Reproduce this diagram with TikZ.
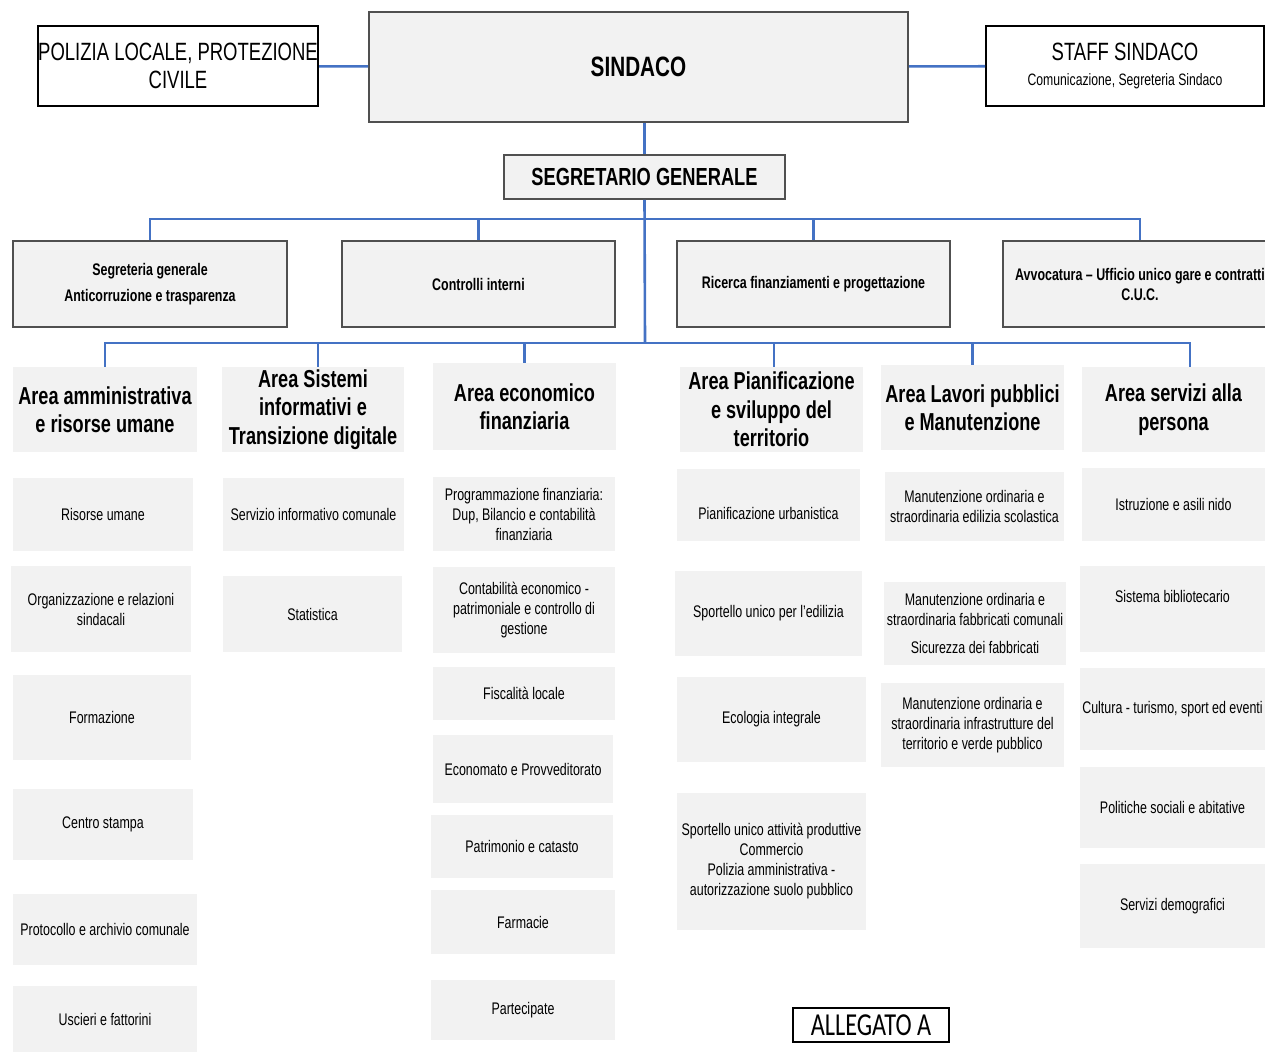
\documentclass[tikz,border=0pt]{standalone}
\usepackage{fontspec}
\setmainfont[FakeStretch=0.74]{Liberation Sans}
\newfontfamily\allegatofont[FakeStretch=0.76]{Carlito}
\usepackage{tikz}
\definecolor{linkblue}{HTML}{4472C4}
\definecolor{boxgray}{HTML}{F2F2F2}
\definecolor{framegray}{HTML}{505050}

\begin{document}
\begin{tikzpicture}[x=1pt,y=-1pt]
\tikzstyle{side} = [draw=black,line width=2pt,fill=white,align=center,inner sep=0pt,font=\fontsize{25}{28}\selectfont]
\tikzstyle{boss} = [draw=framegray,line width=1.8pt,fill=boxgray,align=center,inner sep=0pt,font=\bfseries\fontsize{28}{32}\selectfont]
\tikzstyle{office} = [draw=framegray,line width=1.4pt,fill=boxgray,align=center,inner sep=0pt,font=\bfseries\fontsize{16.8}{20}\selectfont]
\tikzstyle{head} = [fill=boxgray,align=center,inner sep=0pt,font=\bfseries\fontsize{24.5}{28.5}\selectfont]
\tikzstyle{unit} = [fill=boxgray,align=center,inner sep=0pt,font=\fontsize{16.8}{20}\selectfont]
\tikzstyle{link} = [draw=linkblue,line width=2.6pt]

\useasboundingbox (0,0) rectangle (1265,1054);
\clip (0,0) rectangle (1265,1054);

% vertice
\node[boss,minimum width=539,minimum height=110] (sind) at (638.5,67) {SINDACO};
\node[side,minimum width=280,minimum height=80] (pol) at (178,66) {POLIZIA LOCALE, PROTEZIONE\\CIVILE};
\node[side,minimum width=278,minimum height=80] (staff) at (1125,66) {STAFF SINDACO\\[-3pt]\fontsize{16.5}{20}\selectfont Comunicazione, Segreteria Sindaco};
\node[boss,minimum width=281,minimum height=44,font=\bfseries\fontsize{24.7}{28}\selectfont] (seg) at (644.5,177) {SEGRETARIO GENERALE};

% uffici di staff
\node[office,minimum width=274,minimum height=86] (st1) at (150,284) {Segreteria generale\\[6pt]Anticorruzione e trasparenza};
\node[office,minimum width=273,minimum height=86] (st2) at (478.5,284) {Controlli interni};
\node[office,minimum width=273,minimum height=86] (st3) at (813.5,284) {Ricerca finanziamenti e progettazione};
\node[office,minimum width=274,minimum height=86] (st4) at (1140,284) {Avvocatura -- Ufficio unico gare e contratti\\C.U.C.};

% aree
\node[head,minimum width=184,minimum height=85] (a1) at (105,409.5) {Area amministrativa\\e risorse umane};
\node[head,minimum width=182,minimum height=85] (a2) at (313,409.5) {Area Sistemi\\informativi e\\Transizione digitale};
\node[head,minimum width=183,minimum height=87] (a3) at (524.5,406.5) {Area economico\\finanziaria};
\node[head,minimum width=183,minimum height=85] (a4) at (771.5,409.5) {Area Pianificazione\\e sviluppo del\\territorio};
\node[head,minimum width=183,minimum height=85] (a5) at (972.5,407.5) {Area Lavori pubblici\\e Manutenzione};
\node[head,minimum width=183,minimum height=85] (a6) at (1173.5,409.5) {Area servizi alla\\persona};

% servizi
\node[unit,minimum width=180,minimum height=73] (u11) at (103,514.5) {Risorse umane};
\node[unit,minimum width=180,minimum height=86] (u12) at (101,609) {Organizzazione e relazioni\\sindacali};
\node[unit,minimum width=178,minimum height=85] (u13) at (102,717.5) {Formazione};
\node[unit,minimum width=180,minimum height=71] (u14) at (103,824.5) {Centro stampa};
\node[unit,minimum width=184,minimum height=71] (u15) at (105,929.5) {Protocollo e archivio comunale};
\node[unit,minimum width=184,minimum height=66] (u16) at (105,1019) {Uscieri e fattorini};

\node[unit,minimum width=181,minimum height=73] (u21) at (313.5,514.5) {Servizio informativo comunale};
\node[unit,minimum width=179,minimum height=76] (u22) at (312.5,614) {Statistica};

\node[unit,minimum width=182,minimum height=74] (u31) at (524,514) {Programmazione finanziaria:\\Dup, Bilancio e contabilità\\finanziaria};
\node[unit,minimum width=182,minimum height=86] (u32) at (524,610) {Contabilità economico -\\patrimoniale e controllo di\\gestione};
\node[unit,minimum width=182,minimum height=53] (u33) at (524,693.5) {Fiscalità locale};
\node[unit,minimum width=180,minimum height=68] (u34) at (523,769) {Economato e Provveditorato};
\node[unit,minimum width=182,minimum height=63] (u35) at (522,846.5) {Patrimonio e catasto};
\node[unit,minimum width=184,minimum height=64] (u36) at (523,922) {Farmacie};
\node[unit,minimum width=184,minimum height=60] (u37) at (523,1010) {Partecipate};

\node[unit,minimum width=183,text height=50pt,text depth=22pt] (u41) at (768.5,505) {Pianificazione urbanistica};
\node[unit,minimum width=187,minimum height=85] (u42) at (768.5,613.5) {Sportello unico per l'edilizia};
\node[unit,minimum width=189,minimum height=85] (u43) at (771.5,719.5) {Ecologia integrale};
\node[unit,minimum width=189,minimum height=137] (u44) at (771.5,861.5) {\\[-8pt]Sportello unico attività produttive\\Commercio\\Polizia amministrativa -\\autorizzazione suolo pubblico};

\node[unit,minimum width=179,minimum height=69] (u51) at (974.5,506.5) {Manutenzione ordinaria e\\straordinaria edilizia scolastica};
\node[unit,minimum width=182,minimum height=83] (u52) at (975,623.5) {Manutenzione ordinaria e\\straordinaria fabbricati comunali\\[8pt]Sicurezza dei fabbricati};
\node[unit,minimum width=183,minimum height=84] (u53) at (972.5,725) {Manutenzione ordinaria e\\straordinaria infrastrutture del\\territorio e verde pubblico};

\node[unit,minimum width=183,minimum height=73] (u61) at (1173.5,504.5) {Istruzione e asili nido};
\node[unit,minimum width=185,text height=36pt,text depth=50pt] (u62) at (1172.5,609) {Sistema bibliotecario};
\node[unit,minimum width=185,minimum height=82] (u63) at (1172.5,709) {Cultura - turismo, sport ed eventi};
\node[unit,minimum width=185,minimum height=81] (u64) at (1172.5,807.5) {Politiche sociali e abitative};
\node[unit,minimum width=185,minimum height=84] (u65) at (1172.5,906) {Servizi demografici};

\node[side,line width=1.5pt,minimum width=156,minimum height=34,font=\allegatofont\fontsize{32}{34}\selectfont] (alleg) at (871,1025) {ALLEGATO A};

% collegamenti
\coordinate (bus1) at (645,219);
\coordinate (bus2) at (645,343);
\draw[link] (pol) -- (sind);
\draw[link] (sind) -- (staff);
\draw[link] (seg.north) -- (seg.north |- sind.south);
\draw[link] (seg.south) -- (bus2);
\draw[link] (st1.north) |- (bus1) -| (st4.north);
\draw[link] (st2.north) -- (st2.north |- bus1);
\draw[link] (st3.north) -- (st3.north |- bus1);
\draw[link] (a1.north) |- (bus2) -| ([xshift=16.5]a6.north);
\draw[link] ([xshift=5]a2.north) -- ([xshift=5]a2.north |- bus2);
\draw[link] (a3.north) -- (a3.north |- bus2);
\draw[link] ([xshift=2.5]a4.north) -- ([xshift=2.5]a4.north |- bus2);
\draw[link] (a5.north) -- (a5.north |- bus2);
\end{tikzpicture}
\end{document}
